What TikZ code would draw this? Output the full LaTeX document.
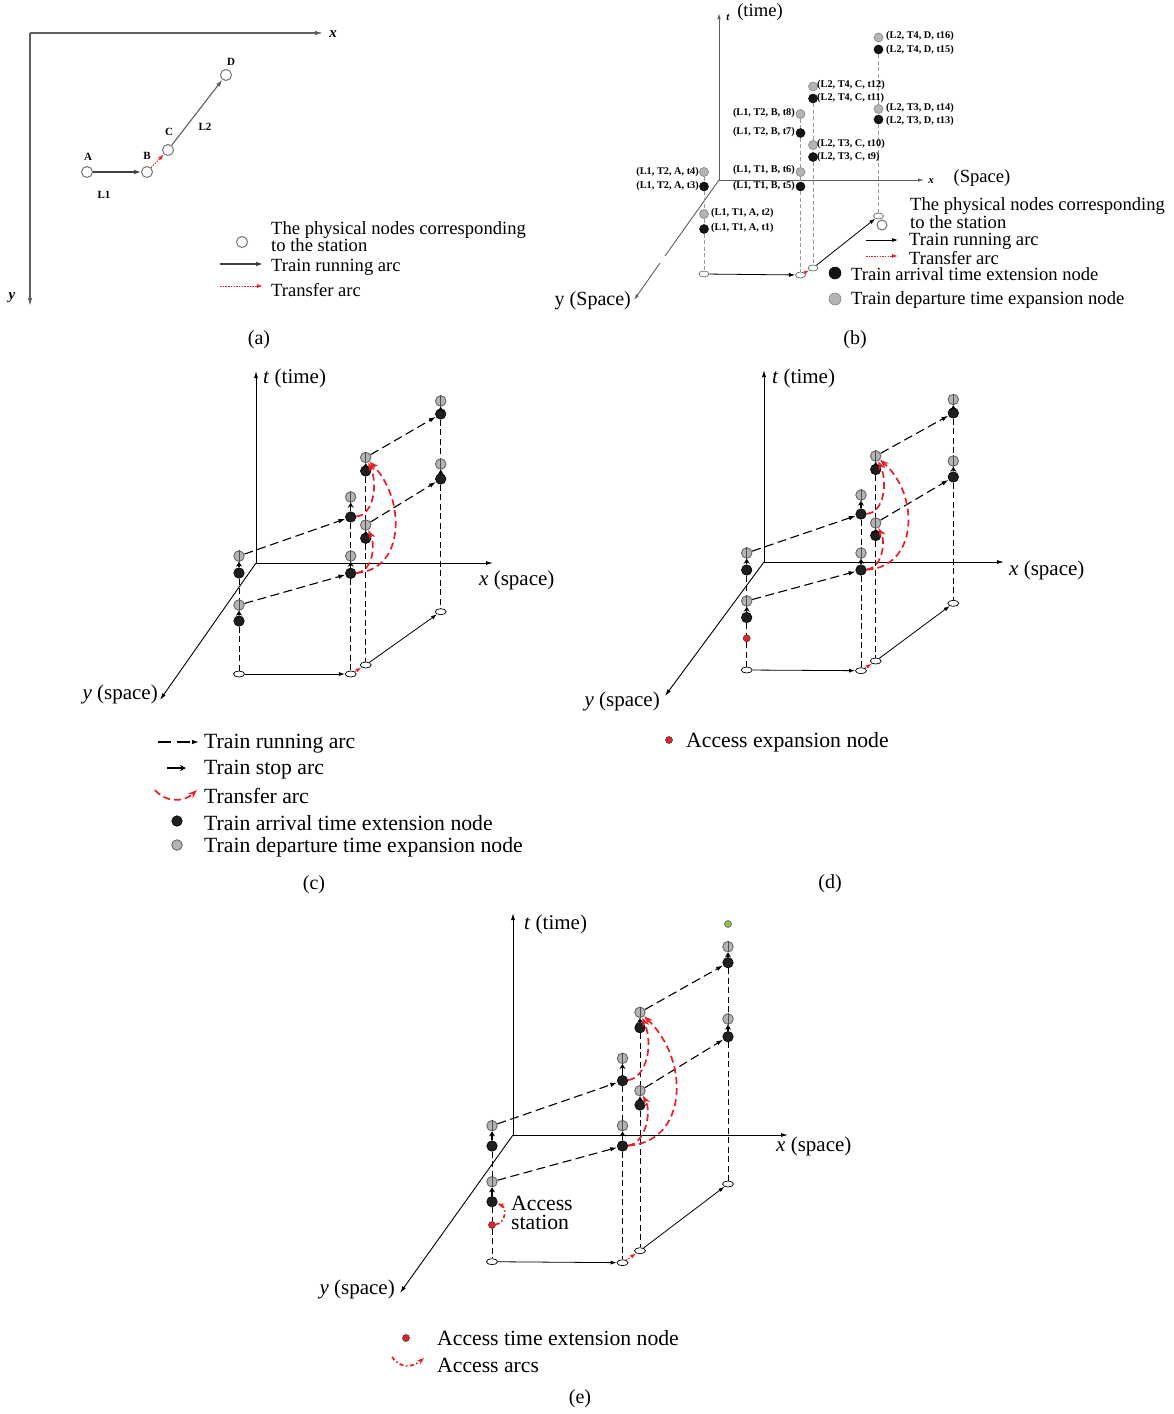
\documentclass[tikz,border=0pt]{standalone}
\usepackage{fontspec}
\setmainfont{Liberation Serif}
\usetikzlibrary{arrows.meta,shapes.geometric}
\definecolor{tred}{RGB}{232,32,38}
\definecolor{gnfill}{RGB}{180,180,180}
\definecolor{axgray}{RGB}{95,95,95}
\definecolor{lgreen}{RGB}{140,195,70}
\begin{document}
\begin{tikzpicture}[x=1pt,y=-1pt,
  gnode/.style={circle,draw=black!60,fill=gnfill,line width=0.9pt,minimum size=10.5pt,inner sep=0pt},
  bnode/.style={circle,draw=black,fill=black!88,line width=0.6pt,minimum size=10.5pt,inner sep=0pt},
  rnode/.style={circle,draw=black!75,fill=tred,line width=0.6pt,minimum size=7pt,inner sep=0pt},
  grnode/.style={circle,draw=black!60,fill=lgreen,line width=0.6pt,minimum size=7pt,inner sep=0pt},
  gndnode/.style={ellipse,draw=black,fill=white,line width=0.7pt,minimum width=11pt,minimum height=6pt,inner sep=0pt},
  gnodeb/.style={circle,draw=black!45,fill=gnfill,line width=0.7pt,minimum size=9pt,inner sep=0pt},
  bnodeb/.style={circle,draw=black,fill=black!92,line width=0.5pt,minimum size=9pt,inner sep=0pt},
  gndb/.style={ellipse,draw=black!60,fill=white,line width=0.7pt,minimum width=10pt,minimum height=6pt,inner sep=0pt},
  opennode/.style={circle,draw=black!55,fill=white,line width=1pt,minimum size=11pt,inner sep=0pt},
  runarc/.style={line width=1.1pt,dash pattern=on 9pt off 4.5pt,-{Latex[length=7pt,width=4.5pt]}},
  stoparc/.style={line width=1.3pt,-{Stealth[length=5pt,width=6pt]}},
  thru/.style={line width=0.6pt,black!70},
  vdash/.style={line width=0.9pt,dash pattern=on 6pt off 3.5pt},
  vdashg/.style={line width=0.8pt,black!40,dash pattern=on 4pt off 2.5pt},
  trarc/.style={tred,line width=1.7pt,dash pattern=on 7pt off 4pt,-{Stealth[length=9pt,width=6.5pt]}},
  acarc/.style={tred,line width=1.7pt,dash pattern=on 4pt off 2.5pt on 1.5pt off 2.5pt,-{Stealth[length=7pt,width=5pt]}},
  gndarc/.style={line width=0.8pt,-{Latex[length=6pt,width=4pt]}},
  rdot/.style={tred,line width=1pt,dash pattern=on 1.5pt off 1.2pt,-{Latex[length=6pt,width=4pt]}},
  myaxis/.style={line width=0.9pt,-{Latex[length=7pt,width=4pt]}},
  gaxis/.style={axgray,line width=1.1pt,-{Latex[length=8pt,width=4.5pt]}},
  lblc/.style={font=\fontsize{21}{22}\selectfont,inner sep=0pt},
  lgc/.style={font=\fontsize{21.7}{22}\selectfont,inner sep=0pt},
  lblb/.style={font=\fontsize{18.6}{17}\selectfont,inner sep=0pt},
  tlab/.style={font=\fontsize{10.3}{11}\selectfont\bfseries,inner sep=0pt},
  alab/.style={font=\fontsize{11}{12}\selectfont\bfseries,inner sep=0pt},
  caplab/.style={font=\fontsize{20}{22}\selectfont,inner sep=0pt}
]
\path[use as bounding box] (0,0) rectangle (1173,1414);

% ================= (a) =================
\coordinate (aO) at (30,33);
\coordinate (aX) at (323,33);
\coordinate (aY) at (30,306);
\draw[gaxis] (aO) -- (aX);
\draw[gaxis] (aO) -- (aY);
\node[font=\fontsize{15}{16}\selectfont\bfseries\itshape,inner sep=0pt] (axl) at (333,34) {x};
\node[font=\fontsize{15}{16}\selectfont\bfseries\itshape,inner sep=0pt] (ayl) at (12,298) {y};
\node[opennode] (aA) at (87,172) {};
\node[opennode] (aB) at (147,172) {};
\node[opennode] (aC) at (168,150) {};
\node[opennode] (aD) at (226,75) {};
\draw[black!75,line width=1.1pt,-{Latex[length=7pt,width=4.5pt]}] (aA) -- (aB);
\draw[rdot] (aB) -- (aC);
\draw[axgray,line width=1.1pt,-{Latex[length=7pt,width=4.5pt]}] (aC) -- (aD);
\node[alab] (aAl) at (88,157) {A};
\node[alab] (aBl) at (147,156) {B};
\node[alab] (aCl) at (169,132) {C};
\node[alab] (aDl) at (231,62) {D};
\node[alab] (aL1) at (104,195) {L1};
\node[alab] (aL2) at (205,127) {L2};
% legend (a)
\node[opennode] (alc) at (242,242) {};
\node[lblb,anchor=west,align=left] (alt1) at (271,237) {The physical nodes corresponding\\to the station};
\coordinate (ala1) at (220,264); \coordinate (ala2) at (263,264);
\draw[black!75,line width=1.1pt,-{Latex[length=7pt,width=4.5pt]}] (ala1) -- (ala2);
\node[lblb,anchor=west] (alt2) at (271,267) {Train running arc};
\coordinate (alr1) at (220,286); \coordinate (alr2) at (263,286);
\draw[rdot] (alr1) -- (alr2);
\node[lblb,anchor=west] (alt3) at (271,290) {Transfer arc};
\node[caplab] (capa) at (259,340) {(a)};

% ================= (b) =================
\coordinate (bO) at (719,180);
\coordinate (bT) at (719,13);
\coordinate (bX) at (924,180);
\coordinate (bYa) at (665,256);
\coordinate (bYb) at (660,263);
\coordinate (bY) at (634,300);
\draw[axgray,line width=0.9pt,-{Latex[length=6pt,width=3.5pt]}] (bO) -- (bT);
\draw[axgray,line width=0.9pt,-{Latex[length=6pt,width=3.5pt]}] (bO) -- (bX);
\draw[axgray,line width=0.9pt] (bO) -- (bYa);
\draw[axgray,line width=0.9pt,-{Latex[length=6pt,width=3.5pt]}] (bYb) -- (bY);
\node[font=\fontsize{11}{12}\selectfont\itshape\bfseries,inner sep=0pt] (btl) at (728,17) {t};
\node[lblb] (btl2) at (760,12) {(time)};
\node[font=\fontsize{11}{12}\selectfont\itshape\bfseries,inner sep=0pt] (bxl) at (931,181) {x};
\node[lblb] (bxl2) at (982,178) {(Space)};
\node[font=\fontsize{20}{22}\selectfont,inner sep=0pt,anchor=east] (byl) at (631,301) {y (Space)};
% nodes
\node[gnodeb] (bA4) at (704,172) {};
\node[bnodeb] (bA3) at (704,186.5) {};
\node[gnodeb] (bA2) at (704,214) {};
\node[bnodeb] (bA1) at (704,229) {};
\node[gndb] (bAg) at (704,274) {};
\node[gnodeb] (bB8) at (800.5,114) {};
\node[bnodeb] (bB7) at (800.5,133) {};
\node[gnodeb] (bB6) at (800.5,172) {};
\node[bnodeb] (bB5) at (800.5,186.5) {};
\node[gndb] (bBg) at (800.5,275) {};
\node[gnodeb] (bC12) at (813,86.5) {};
\node[bnodeb] (bC11) at (813,98.5) {};
\node[gnodeb] (bC10) at (813,145) {};
\node[bnodeb] (bC9) at (813,157) {};
\node[gndb] (bCg) at (813,268) {};
\node[gnodeb] (bD16) at (878.5,37.5) {};
\node[bnodeb] (bD15) at (878.5,49.5) {};
\node[gnodeb] (bD14) at (878.5,109) {};
\node[bnodeb] (bD13) at (878.5,119.5) {};
\node[gndb] (bDg) at (878.5,216) {};
\draw[vdashg] (bA4) -- (bA3); \draw[vdashg] (bA3) -- (bA2); \draw[vdashg] (bA2) -- (bA1); \draw[vdashg] (bA1) -- (bAg);
\draw[vdashg] (bB8) -- (bB7); \draw[vdashg] (bB7) -- (bB6); \draw[vdashg] (bB6) -- (bB5); \draw[vdashg] (bB5) -- (bBg);
\draw[vdashg] (bC11) -- (bC10); \draw[vdashg] (bC9) -- (bCg);
\draw[vdashg] (bD15) -- (bD14); \draw[vdashg] (bD13) -- (bDg);
\draw[line width=0.8pt,-{Latex[length=6pt,width=4pt]}] (bAg) -- (bBg);
\draw[rdot,line width=0.9pt,-{Latex[length=5pt,width=3.5pt]}] (bBg) -- (bCg);
\draw[line width=0.8pt,-{Latex[length=6pt,width=4pt]}] (bCg) -- (bDg);
% labels
\node[tlab,anchor=east] (lA4) at (699,172) {(L1, T2, A, t4)};
\node[tlab,anchor=east] (lA3) at (699,186) {(L1, T2, A, t3)};
\node[tlab,anchor=west] (lA2) at (711,213) {(L1, T1, A, t2)};
\node[tlab,anchor=west] (lA1) at (711,228) {(L1, T1, A, t1)};
\node[tlab,anchor=east] (lB8) at (795,113) {(L1, T2, B, t8)};
\node[tlab,anchor=east] (lB7) at (795,132) {(L1, T2, B, t7)};
\node[tlab,anchor=east] (lB6) at (795,170) {(L1, T1, B, t6)};
\node[tlab,anchor=east] (lB5) at (795,186) {(L1, T1, B, t5)};
\node[tlab,anchor=west] (lC12) at (817,85) {(L2, T4, C, t12)};
\node[tlab,anchor=west] (lC11) at (817,98) {(L2, T4, C, t11)};
\node[tlab,anchor=west] (lC10) at (817,144) {(L2, T3, C, t10)};
\node[tlab,anchor=west] (lC9) at (817,157) {(L2, T3, C, t9)};
\node[tlab,anchor=west] (lD16) at (886,36) {(L2, T4, D, t16)};
\node[tlab,anchor=west] (lD15) at (886,50) {(L2, T4, D, t15)};
\node[tlab,anchor=west] (lD14) at (886,108) {(L2, T3, D, t14)};
\node[tlab,anchor=west] (lD13) at (886,121) {(L2, T3, D, t13)};
% legend (b)
\node[opennode,minimum size=10pt] (blc) at (882,225) {};
\node[lblb,anchor=west,align=left,font=\fontsize{18.6}{16.5}\selectfont] (blt1) at (910,213) {The physical nodes corresponding\\to the station};
\coordinate (bla1) at (866,240); \coordinate (bla2) at (898,240);
\draw[line width=0.8pt,-{Latex[length=6pt,width=4pt]}] (bla1) -- (bla2);
\node[lblb,anchor=west] (blt2) at (909,241) {Train running arc};
\coordinate (blr1) at (866,256); \coordinate (blr2) at (898,256);
\draw[rdot,line width=0.9pt] (blr1) -- (blr2);
\node[lblb,anchor=west] (blt3) at (909,258) {Transfer arc};
\node[bnodeb,minimum size=12pt] (blb) at (835,273) {};
\node[lblb,anchor=west] (blt4) at (851,274) {Train arrival time extension node};
\node[gnodeb,minimum size=12pt] (blg) at (835,299) {};
\node[lblb,anchor=west] (blt5) at (851,300) {Train departure time expansion node};
\node[caplab] (capb) at (855,340) {(b)};

% ================= (c) =================
\coordinate (cO) at (256,563);
\coordinate (cT) at (256,371);
\coordinate (cX) at (493,563);
\coordinate (cY) at (160,700);
\draw[myaxis] (cO) -- (cT);
\draw[myaxis] (cO) -- (cX);
\draw[myaxis] (cO) -- (cY);
\node[lblc,anchor=west] (ctl) at (263,378) {\textit{t} (time)};
\node[lblc,anchor=west] (cxl) at (479,580) {\textit{x} (space)};
\node[lblc,anchor=east] (cyl) at (158,694) {\textit{y} (space)};
\node[gnode] (cAg1) at (239,556) {};
\node[bnode] (cAb1) at (239,573) {};
\node[gnode] (cAg2) at (239,605) {};
\node[bnode] (cAb2) at (239,621) {};
\node[gndnode] (cAgr) at (239,674) {};
\node[gnode] (cBg1) at (350.7,497) {};
\node[bnode] (cBb1) at (350.7,517) {};
\node[gnode] (cBg2) at (350.7,556) {};
\node[bnode] (cBb2) at (350.7,573.3) {};
\node[gndnode] (cBgr) at (350.7,674) {};
\node[gnode] (cCg1) at (365.7,457.5) {};
\node[bnode] (cCb1) at (365.7,471) {};
\node[gnode] (cCg2) at (365.7,525) {};
\node[bnode] (cCb2) at (365.7,538.3) {};
\node[gndnode] (cCgr) at (365.7,665) {};
\node[gnode] (cDg1) at (440.7,401) {};
\node[bnode] (cDb1) at (440.7,414) {};
\node[gnode] (cDg2) at (440.7,464) {};
\node[bnode] (cDb2) at (440.7,479) {};
\node[gndnode] (cDgr) at (440.7,611.7) {};
\draw[vdash] (cAb1) -- (cAg2); \draw[vdash] (cAb2) -- (cAgr);
\draw[vdash] (cBb1) -- (cBg2); \draw[vdash] (cBb2) -- (cBgr);
\draw[vdash] (cCb1) -- (cCg2); \draw[vdash] (cCb2) -- (cCgr);
\draw[vdash] (cDb1) -- (cDg2); \draw[vdash] (cDb2) -- (cDgr);
\foreach \n in {A,B,C,D}{
  \draw[stoparc] (c\n b1.north) -- (c\n g1.south);
  \draw[stoparc] (c\n b2.north) -- (c\n g2.south);
  \draw[thru] (c\n g1.south) -- (c\n g1.north);
  \draw[thru] (c\n g2.south) -- (c\n g2.north);
}
\draw[runarc] (cAg1) -- (cBb1);
\draw[runarc] (cAg2) -- (cBb2);
\draw[runarc] (cCg1) -- (cDb1);
\draw[runarc] (cCg2) -- (cDb2);
\draw[gndarc] (cAgr) -- (cBgr);
\draw[rdot] (cBgr) -- (cCgr);
\draw[gndarc] (cCgr) -- (cDgr);
\draw[trarc] (cBb1) .. controls (374,515) and (378,483) .. (cCg1);
\draw[trarc] (cBb2) .. controls (372,572) and (376,546) .. (cCg2);
\draw[trarc] (cBb2) .. controls (405,570) and (406,500) .. (cCg1);
% legend (c)
\coordinate (lc1a) at (158,742); \coordinate (lc1b) at (199,742);
\draw[line width=1.1pt,dash pattern=on 13pt off 6pt,-{Latex[length=7pt,width=4.5pt]}] (lc1a) -- (lc1b);
\node[lgc,anchor=west] (lct1) at (204,744) {Train running arc};
\coordinate (lc2a) at (167,768); \coordinate (lc2b) at (186,768);
\draw[line width=1.3pt,-{Stealth[length=6pt,width=6pt]}] (lc2a) -- (lc2b);
\node[lgc,anchor=west] (lct2) at (204,770) {Train stop arc};
\coordinate (lc3a) at (155,790); \coordinate (lc3b) at (197,790);
\draw[trarc] (lc3a) .. controls (165,802) and (183,803) .. (lc3b);
\node[lgc,anchor=west] (lct3) at (204,796) {Transfer arc};
\node[bnode] (lc4) at (177,821) {};
\node[lgc,anchor=west] (lct4) at (204,823) {Train arrival time extension node};
\node[gnode] (lc5) at (177,845) {};
\node[lgc,anchor=west] (lct5) at (204,847) {Train departure time expansion node};
\node[caplab] (capc) at (314,885) {(c)};

% ================= (d) =================
\coordinate (dO) at (764,562);
\coordinate (dT) at (764,370);
\coordinate (dX) at (1004,562);
\coordinate (dY) at (665,696);
\draw[myaxis] (dO) -- (dT);
\draw[myaxis] (dO) -- (dX);
\draw[myaxis] (dO) -- (dY);
\node[lblc,anchor=west] (dtl) at (772,378) {\textit{t} (time)};
\node[lblc,anchor=west] (dxl) at (1009,570) {\textit{x} (space)};
\node[lblc,anchor=east] (dyl) at (660,701) {\textit{y} (space)};
\node[gnode] (dAg1) at (746.7,553) {};
\node[bnode] (dAb1) at (746.7,570) {};
\node[gnode] (dAg2) at (746.7,601) {};
\node[bnode] (dAb2) at (746.7,617.5) {};
\node[rnode] (dAr) at (746.7,638.3) {};
\node[gndnode] (dAgr) at (746.7,670) {};
\node[gnode] (dBg1) at (861,495) {};
\node[bnode] (dBb1) at (861,514) {};
\node[gnode] (dBg2) at (861,553) {};
\node[bnode] (dBb2) at (861,570) {};
\node[gndnode] (dBgr) at (861,670.7) {};
\node[gnode] (dCg1) at (875.7,456) {};
\node[bnode] (dCb1) at (875.7,469.5) {};
\node[gnode] (dCg2) at (875.7,523) {};
\node[bnode] (dCb2) at (875.7,535.5) {};
\node[gndnode] (dCgr) at (875.7,661) {};
\node[gnode] (dDg1) at (953.3,399.5) {};
\node[bnode] (dDb1) at (953.3,413) {};
\node[gnode] (dDg2) at (953.3,461) {};
\node[bnode] (dDb2) at (953.3,477) {};
\node[gndnode] (dDgr) at (953.3,603.3) {};
\draw[vdash] (dAb1) -- (dAg2); \draw[vdash] (dAb2) -- (dAr); \draw[vdash] (dAr) -- (dAgr);
\draw[vdash] (dBb1) -- (dBg2); \draw[vdash] (dBb2) -- (dBgr);
\draw[vdash] (dCb1) -- (dCg2); \draw[vdash] (dCb2) -- (dCgr);
\draw[vdash] (dDb1) -- (dDg2); \draw[vdash] (dDb2) -- (dDgr);
\foreach \n in {A,B,C,D}{
  \draw[stoparc] (d\n b1.north) -- (d\n g1.south);
  \draw[stoparc] (d\n b2.north) -- (d\n g2.south);
  \draw[thru] (d\n g1.south) -- (d\n g1.north);
  \draw[thru] (d\n g2.south) -- (d\n g2.north);
}
\draw[runarc] (dAg1) -- (dBb1);
\draw[runarc] (dAg2) -- (dBb2);
\draw[runarc] (dCg1) -- (dDb1);
\draw[runarc] (dCg2) -- (dDb2);
\draw[gndarc] (dAgr) -- (dBgr);
\draw[rdot] (dBgr) -- (dCgr);
\draw[gndarc] (dCgr) -- (dDgr);
\draw[trarc] (dBb1) .. controls (884,513) and (888,482) .. (dCg1);
\draw[trarc] (dBb2) .. controls (882,568) and (886,542) .. (dCg2);
\draw[trarc] (dBb2) .. controls (918,567) and (920,495) .. (dCg1);
% legend (d)
\node[rnode] (ld1) at (669,740) {};
\node[lgc,anchor=west] (ldt1) at (686,742) {Access expansion node};
\node[caplab] (capd) at (830,884) {(d)};

% ================= (e) =================
\coordinate (eO) at (513,1135);
\coordinate (eT) at (513,913);
\coordinate (eX) at (788,1135);
\coordinate (eY) at (400,1293);
\draw[myaxis] (eO) -- (eT);
\draw[myaxis] (eO) -- (eX);
\draw[myaxis] (eO) -- (eY);
\node[lblc,anchor=west] (etl) at (524,924) {\textit{t} (time)};
\node[lblc,anchor=west] (exl) at (776,1146) {\textit{x} (space)};
\node[lblc,anchor=east] (eyl) at (395,1289) {\textit{y} (space)};
\node[gnode] (eAg1) at (492,1125.7) {};
\node[bnode] (eAb1) at (492,1146) {};
\node[gnode] (eAg2) at (492,1181.7) {};
\node[bnode] (eAb2) at (492,1201.7) {};
\node[rnode] (eAr) at (492,1225) {};
\node[gndnode] (eAgr) at (492,1261.7) {};
\node[gnode] (eBg1) at (622.5,1058.3) {};
\node[bnode] (eBb1) at (622.5,1080.7) {};
\node[gnode] (eBg2) at (622.5,1125.7) {};
\node[bnode] (eBb2) at (622.5,1146) {};
\node[gndnode] (eBgr) at (622.5,1262.7) {};
\node[gnode] (eCg1) at (640,1012.3) {};
\node[bnode] (eCb1) at (640,1027.7) {};
\node[gnode] (eCg2) at (640,1090.7) {};
\node[bnode] (eCb2) at (640,1105) {};
\node[gndnode] (eCgr) at (640,1250.7) {};
\node[gnode] (eDg1) at (728,946.7) {};
\node[bnode] (eDb1) at (728,962.7) {};
\node[gnode] (eDg2) at (728,1019) {};
\node[bnode] (eDb2) at (728,1036.7) {};
\node[gndnode] (eDgr) at (728,1184) {};
\node[grnode] (eGr) at (728,924) {};
\draw[vdash] (eAb1) -- (eAg2); \draw[vdash] (eAb2) -- (eAr); \draw[vdash] (eAr) -- (eAgr);
\draw[vdash] (eBb1) -- (eBg2); \draw[vdash] (eBb2) -- (eBgr);
\draw[vdash] (eCb1) -- (eCg2); \draw[vdash] (eCb2) -- (eCgr);
\draw[vdash] (eDb1) -- (eDg2); \draw[vdash] (eDb2) -- (eDgr);
\foreach \n in {A,B,C,D}{
  \draw[stoparc] (e\n b1.north) -- (e\n g1.south);
  \draw[stoparc] (e\n b2.north) -- (e\n g2.south);
  \draw[thru] (e\n g1.south) -- (e\n g1.north);
  \draw[thru] (e\n g2.south) -- (e\n g2.north);
}
\draw[runarc] (eAg1) -- (eBb1);
\draw[runarc] (eAg2) -- (eBb2);
\draw[runarc] (eCg1) -- (eDb1);
\draw[runarc] (eCg2) -- (eDb2);
\draw[gndarc] (eAgr) -- (eBgr);
\draw[rdot] (eBgr) -- (eCgr);
\draw[gndarc] (eCgr) -- (eDgr);
\draw[trarc] (eBb1) .. controls (646,1078) and (654,1045) .. (eCg1);
\draw[trarc] (eBb2) .. controls (645,1144) and (652,1112) .. (eCg2);
\draw[trarc] (eBb2) .. controls (688,1142) and (690,1060) .. (eCg1);
\draw[acarc] (eAr) .. controls (506,1223) and (507,1207) .. (eAb2);
\node[lgc,anchor=west,align=left,font=\fontsize{21.7}{19}\selectfont] (eas) at (511,1213) {Access\\station};
% legend (e)
\node[rnode] (le1) at (406,1338) {};
\node[lgc,anchor=west] (let1) at (437,1338) {Access time extension node};
\coordinate (le2a) at (392,1357); \coordinate (le2b) at (424,1358);
\draw[acarc] (le2a) .. controls (399,1368) and (412,1368) .. (le2b);
\node[lgc,anchor=west] (let2) at (437,1365) {Access arcs};
\node[caplab] (cape) at (580,1399) {(e)};
\end{tikzpicture}
\end{document}
